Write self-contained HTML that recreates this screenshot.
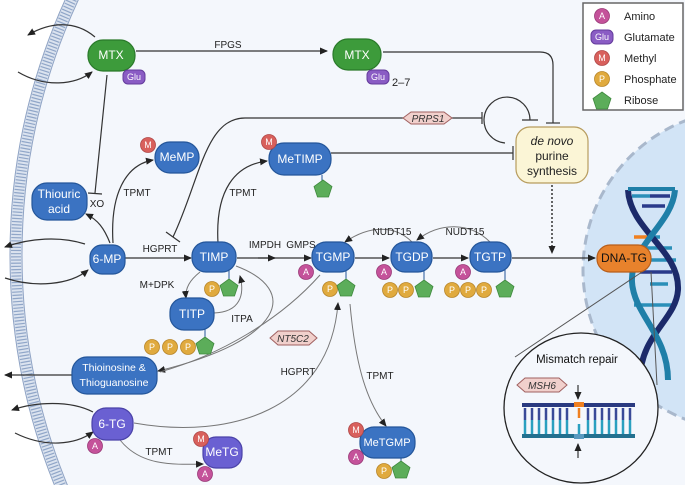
<!DOCTYPE html>
<html><head><meta charset="utf-8"><style>
html,body{margin:0;padding:0;background:#fff;width:685px;height:485px;overflow:hidden}
svg{display:block;font-family:"Liberation Sans",sans-serif}
.n{font-size:12px;fill:#fff;text-anchor:middle;dominant-baseline:central}
.l{font-size:10px;fill:#222;text-anchor:middle}
.ln{fill:none;stroke:#333;stroke-width:1.2}
.lg{fill:none;stroke:#777;stroke-width:1}
.b{fill:#3b73c2;stroke:#24569a;stroke-width:1.2}
.g{fill:#3d9b3b;stroke:#2a7a2a;stroke-width:1.2}
.pu{fill:#6a60d2;stroke:#4a42a8;stroke-width:1.2}
.s{font-size:9px;fill:#fff;text-anchor:middle;dominant-baseline:central}
</style></head><body>
<svg width="685" height="485" viewBox="0 0 685 485" xmlns="http://www.w3.org/2000/svg">
<defs>
<marker id="a" markerWidth="8" markerHeight="8" refX="7" refY="4" orient="auto" markerUnits="userSpaceOnUse"><path d="M0,0.5 L8,4 L0,7.5 z" fill="#222"/></marker>
<clipPath id="nc"><circle cx="743" cy="270" r="160"/></clipPath>
<g id="P"><circle r="7.5" fill="#e0aa3e" stroke="#b8862a" stroke-width="0.8"/><text class="s">P</text></g>
<g id="A"><circle r="7.5" fill="#c4529a" stroke="#9a3a78" stroke-width="0.8"/><text class="s">A</text></g>
<g id="M"><circle r="7.5" fill="#d8605c" stroke="#b04848" stroke-width="0.8"/><text class="s">M</text></g>
<g id="R"><path d="M0,-9 L9,-2.5 L5.5,8 L-5.5,8 L-9,-2.5 z" fill="#5cad5a" stroke="#3f8a3e" stroke-width="0.8"/></g>
</defs>
<rect width="685" height="485" fill="#fff"/>
<circle cx="628" cy="255" r="618" fill="#f4f7fc"/>
<!-- membrane -->
<circle cx="628" cy="255" r="612" fill="none" stroke="#dbe3ef" stroke-width="12"/>
<circle cx="628" cy="255" r="612" fill="none" stroke="#90a6c8" stroke-width="10" stroke-dasharray="1.2 2"/>
<circle cx="628" cy="255" r="618" fill="none" stroke="#8fa3c4" stroke-width="1"/>
<circle cx="628" cy="255" r="606" fill="none" stroke="#8fa3c4" stroke-width="1"/>
<!-- nucleus -->
<circle cx="743" cy="270" r="160" fill="#d2e4f6"/>
<circle cx="743" cy="270" r="160" fill="none" stroke="#a9b8cc" stroke-width="3" stroke-dasharray="10 6"/>
<!-- helix -->
<g clip-path="url(#nc)">
<g stroke-width="3.5">
<line x1="632" y1="196" x2="650" y2="196" stroke="#2a8fb8"/><line x1="650" y1="196" x2="670" y2="196" stroke="#2a3a8a"/>
<line x1="642" y1="206" x2="665" y2="206" stroke="#2a3a8a"/>
<line x1="634" y1="237" x2="648" y2="237" stroke="#f08020"/><line x1="648" y1="237" x2="660" y2="237" stroke="#2a8fb8"/>
<line x1="632" y1="248" x2="672" y2="248" stroke="#2a8fb8"/>
<line x1="634" y1="260" x2="676" y2="260" stroke="#2a8fb8"/><line x1="640" y1="272" x2="672" y2="272" stroke="#2a3a8a"/>
<line x1="650" y1="284" x2="668" y2="284" stroke="#2a8fb8"/><line x1="634" y1="305" x2="676" y2="305" stroke="#2a8fb8"/>
</g>
<path d="M628,190 C630,230 680,250 678,290 C676,320 640,335 640,380" fill="none" stroke="#1c2a6a" stroke-width="6"/>
<path d="M675,190 C672,225 630,245 632,282 C634,315 668,335 668,380" fill="none" stroke="#1f7fa8" stroke-width="6"/>
<path d="M628,189 L675,189" stroke="#1f7fa8" stroke-width="4"/>
</g>
<!-- legend -->
<rect x="583" y="3" width="100" height="107" fill="#fff" stroke="#666" stroke-width="1.5"/>
<use href="#A" x="602" y="16"/><text x="624" y="20" font-size="11" fill="#222">Amino</text>
<rect x="591" y="30" width="22" height="14" rx="5" fill="#8a5cc4" stroke="#643c9c"/><text x="602" y="37" class="s">Glu</text><text x="624" y="41" font-size="11" fill="#222">Glutamate</text>
<use href="#M" x="602" y="58"/><text x="624" y="62" font-size="11" fill="#222">Methyl</text>
<use href="#P" x="602" y="79"/><text x="624" y="83" font-size="11" fill="#222">Phosphate</text>
<use href="#R" x="602" y="101"/><text x="624" y="104" font-size="11" fill="#222">Ribose</text>
<!-- connectors -->
<path class="ln" d="M136,51 L327,51" marker-end="url(#a)"/><text class="l" x="228" y="48">FPGS</text>
<path class="ln" d="M383,52 L540,52 Q553,52 553,65 L553,123"/><path class="ln" d="M546,123 L560,123"/>
<path class="ln" d="M173,237 C200,180 205,118 245,118 L403,118" stroke="#444"/>
<path class="ln" d="M166,232 L180,242"/>
<path class="ln" d="M452,118 L482,118 M482,112 L482,124"/>
<path class="ln" d="M505,143 A23,23 0 1 1 530,120 M522,120 L538,120" stroke="#444"/>
<path class="ln" d="M331,153 L513,153 M513,146 L513,160"/>
<path d="M552,185 L552,253" stroke="#333" stroke-width="1.5" stroke-dasharray="2 2" marker-end="url(#a)"/>
<path class="ln" d="M107,75 L95,193 M88,193 L102,194"/><text class="l" x="97" y="207">XO</text>
<!-- membrane arrows -->
<path class="ln" d="M95,37 C75,20 50,22 28,35" marker-end="url(#a)"/>
<path class="ln" d="M18,72 C45,88 75,85 92,72" marker-end="url(#a)"/>
<path class="ln" d="M85,244 C60,236 30,238 5,247" marker-end="url(#a)"/>
<path class="ln" d="M5,278 C35,288 70,285 88,270" marker-end="url(#a)"/>
<path class="ln" d="M72,375 L5,375" marker-end="url(#a)"/>
<path class="ln" d="M93,412 C70,400 35,402 12,410" marker-end="url(#a)"/>
<path class="ln" d="M15,433 C45,448 75,445 93,432" marker-end="url(#a)"/>
<!-- pathway arrows -->
<path class="ln" d="M110,243 C104,228 98,220 86,214" marker-end="url(#a)"/>
<path class="ln" d="M113,243 C110,195 125,165 153,160" marker-end="url(#a)"/><text class="l" x="137" y="196">TPMT</text>
<path class="ln" d="M218,243 C215,190 235,165 267,161" marker-end="url(#a)"/><text class="l" x="243" y="196">TPMT</text>
<path class="ln" d="M125,258 L191,258" marker-end="url(#a)"/><text class="l" x="160" y="252">HGPRT</text>
<path class="ln" d="M237,258 L311,258" marker-end="url(#a)"/><path class="ln" d="M258,258 L275,258" marker-end="url(#a)"/>
<text class="l" x="265" y="248">IMPDH</text><text class="l" x="301" y="248">GMPS</text>
<path class="ln" d="M355,258 L389,258" marker-end="url(#a)"/>
<path class="ln" d="M433,258 L468,258" marker-end="url(#a)"/>
<path class="ln" d="M512,258 L595,258" marker-end="url(#a)"/>
<path class="lg" d="M412,242 C395,225 370,225 345,242" marker-end="url(#a)"/><text class="l" x="392" y="235">NUDT15</text>
<path class="lg" d="M490,242 C470,222 440,222 417,240" marker-end="url(#a)"/><text class="l" x="465" y="235">NUDT15</text>
<path class="lg" d="M200,272 C190,280 185,288 186,298" marker-end="url(#a)"/><text class="l" x="157" y="288">M+DPK</text>
<path class="lg" d="M214,313 C240,312 245,295 240,276" marker-end="url(#a)"/><text class="l" x="242" y="322">ITPA</text>
<path class="lg" d="M236,266 C300,290 285,340 158,371" marker-end="url(#a)"/>
<path class="lg" d="M320,275 C280,320 220,355 160,372"/>
<path class="lg" d="M134,423 C230,440 330,410 338,303" marker-end="url(#a)"/><text class="l" x="298" y="375">HGPRT</text>
<path class="lg" d="M350,304 C355,360 365,400 386,426" marker-end="url(#a)"/><text class="l" x="380" y="379">TPMT</text>
<path class="lg" d="M120,440 C140,465 170,465 203,464" marker-end="url(#a)"/><text class="l" x="159" y="455">TPMT</text>
<path d="M645,270 L515,357 M651,272 L657,385" stroke="#555" stroke-width="1" fill="none"/>
<!-- nodes -->
<rect x="88" y="40" width="47" height="31" rx="15" class="g"/><text class="n" x="111" y="55">MTX</text>
<rect x="123" y="70" width="22" height="14" rx="5" fill="#8a5cc4" stroke="#643c9c"/><text class="s" x="134" y="77">Glu</text>
<rect x="333" y="39" width="48" height="31" rx="15" class="g"/><text class="n" x="357" y="55">MTX</text>
<rect x="367" y="70" width="22" height="14" rx="5" fill="#8a5cc4" stroke="#643c9c"/><text class="s" x="378" y="77">Glu</text>
<text x="392" y="86" font-size="11" fill="#222">2–7</text>
<path d="M403,118 L411,112 L444,112 L452,118 L444,124 L411,124 z" fill="#f1d0cc" stroke="#a06060"/><text x="428" y="122" font-size="10" font-style="italic" fill="#333" text-anchor="middle">PRPS1</text>
<rect x="516" y="127" width="72" height="56" rx="14" fill="#fbf5d6" stroke="#b79c5e" stroke-width="1.2"/>
<text x="552" y="145" font-size="12" font-style="italic" fill="#222" text-anchor="middle">de novo</text>
<text x="552" y="160" font-size="12" fill="#222" text-anchor="middle">purine</text>
<text x="552" y="175" font-size="12" fill="#222" text-anchor="middle">synthesis</text>
<rect x="155" y="142" width="44" height="31" rx="15" class="b"/><text class="n" x="177" y="157">MeMP</text><use href="#M" x="148" y="145"/>
<line x1="322" y1="175" x2="322" y2="182" stroke="#24569a"/><use href="#R" x="323" y="189"/>
<rect x="269" y="143" width="62" height="32" rx="15" class="b"/><text class="n" x="300" y="159">MeTIMP</text><use href="#M" x="269" y="142"/>
<rect x="32" y="183" width="55" height="37" rx="15" class="b"/><text class="n" x="59" y="194">Thiouric</text><text class="n" x="59" y="209">acid</text>
<rect x="90" y="245" width="35" height="29" rx="12" class="b"/><text class="n" x="107" y="259">6-MP</text>
<line x1="229" y1="270" x2="229" y2="280" stroke="#24569a"/><use href="#P" x="212" y="289"/><use href="#R" x="229" y="288"/>
<rect x="192" y="242" width="44" height="30" rx="14" class="b"/><text class="n" x="214" y="257">TIMP</text>
<line x1="346" y1="270" x2="346" y2="280" stroke="#24569a"/><use href="#P" x="330" y="289"/><use href="#R" x="346" y="288"/>
<rect x="312" y="242" width="42" height="30" rx="14" class="b"/><text class="n" x="333" y="257">TGMP</text><use href="#A" x="306" y="272"/>
<line x1="424" y1="270" x2="424" y2="280" stroke="#24569a"/><use href="#P" x="390" y="290"/><use href="#P" x="406" y="290"/><use href="#R" x="424" y="289"/>
<rect x="391" y="242" width="41" height="30" rx="14" class="b"/><text class="n" x="412" y="257">TGDP</text><use href="#A" x="384" y="272"/>
<line x1="505" y1="270" x2="505" y2="280" stroke="#24569a"/><use href="#P" x="452" y="290"/><use href="#P" x="468" y="290"/><use href="#P" x="484" y="290"/><use href="#R" x="505" y="289"/>
<rect x="470" y="242" width="41" height="30" rx="14" class="b"/><text class="n" x="490" y="257">TGTP</text><use href="#A" x="463" y="272"/>
<rect x="597" y="245" width="54" height="27" rx="13" fill="#e8822c" stroke="#b85e1a" stroke-width="1.2"/><text x="624" y="262" font-size="12" fill="#111" text-anchor="middle">DNA-TG</text>
<line x1="205" y1="328" x2="205" y2="338" stroke="#24569a"/><use href="#P" x="152" y="347"/><use href="#P" x="170" y="347"/><use href="#P" x="188" y="347"/><use href="#R" x="205" y="346"/>
<rect x="170" y="298" width="44" height="32" rx="14" class="b"/><text class="n" x="192" y="314">TITP</text>
<path d="M270,338 L278,331 L309,331 L317,338 L309,345 L278,345 z" fill="#f1d0cc" stroke="#a06060"/><text x="293" y="342" font-size="10" font-style="italic" fill="#333" text-anchor="middle">NT5C2</text>
<rect x="72" y="357" width="85" height="37" rx="15" class="b"/><text class="n" x="114" y="368" style="font-size:10.5px">Thioinosine &amp;</text><text class="n" x="114" y="383" style="font-size:10.5px">Thioguanosine</text>
<rect x="92" y="408" width="41" height="32" rx="14" class="pu"/><text class="n" x="112" y="424">6-TG</text><use href="#A" x="95" y="446"/>
<rect x="203" y="437" width="39" height="31" rx="13" class="pu"/><text class="n" x="222" y="452">MeTG</text><use href="#M" x="201" y="439"/><use href="#A" x="205" y="474"/>
<line x1="401" y1="458" x2="401" y2="464" stroke="#24569a"/><use href="#P" x="384" y="471"/><use href="#R" x="401" y="470"/>
<rect x="360" y="427" width="55" height="31" rx="14" class="b"/><text class="n" x="387" y="443" style="font-size:11px">MeTGMP</text><use href="#M" x="356" y="430"/><use href="#A" x="356" y="457"/>
<!-- mismatch repair -->
<ellipse cx="581" cy="408" rx="77" ry="75" fill="#f4f7fc" stroke="#222" stroke-width="1.3"/>
<text x="577" y="363" font-size="11.5" fill="#111" text-anchor="middle">Mismatch repair</text>
<path d="M517,385 L525,378 L559,378 L567,385 L559,392 L525,392 z" fill="#f1d0cc" stroke="#a06060"/><text x="542" y="389" font-size="10" font-style="italic" fill="#333" text-anchor="middle">MSH6</text>
<g stroke-width="2.5">
<path d="M525,408 V420 M532,408 V420 M539,408 V420 M546,408 V420 M553,408 V420 M560,408 V420 M567,408 V420 M588,408 V420 M595,408 V420 M602,408 V420 M609,408 V420 M616,408 V420 M623,408 V420 M630,408 V420" stroke="#3a4a98"/>
<path d="M525,420 V434 M532,420 V434 M539,420 V434 M546,420 V434 M553,420 V434 M560,420 V434 M567,420 V434 M588,420 V434 M595,420 V434 M602,420 V434 M609,420 V434 M616,420 V434 M623,420 V434 M630,420 V434 M579,424 V434" stroke="#2aa0c0"/>
<path d="M579,408 V418" stroke="#f08020"/>
</g>
<rect x="522" y="403" width="52" height="4" fill="#2a3a80"/><rect x="584" y="403" width="51" height="4" fill="#2a3a80"/><rect x="574" y="402" width="10" height="5" fill="#f08020"/>
<rect x="522" y="434" width="113" height="4" fill="#23708f"/><rect x="574" y="434" width="10" height="5" fill="#5a9ac0"/>
<path d="M578,385 L578,399" class="ln" stroke-width="0.8" marker-end="url(#a)"/>
<path d="M578,458 L578,444" class="ln" stroke-width="0.8" marker-end="url(#a)"/>
</svg>
</body></html>
